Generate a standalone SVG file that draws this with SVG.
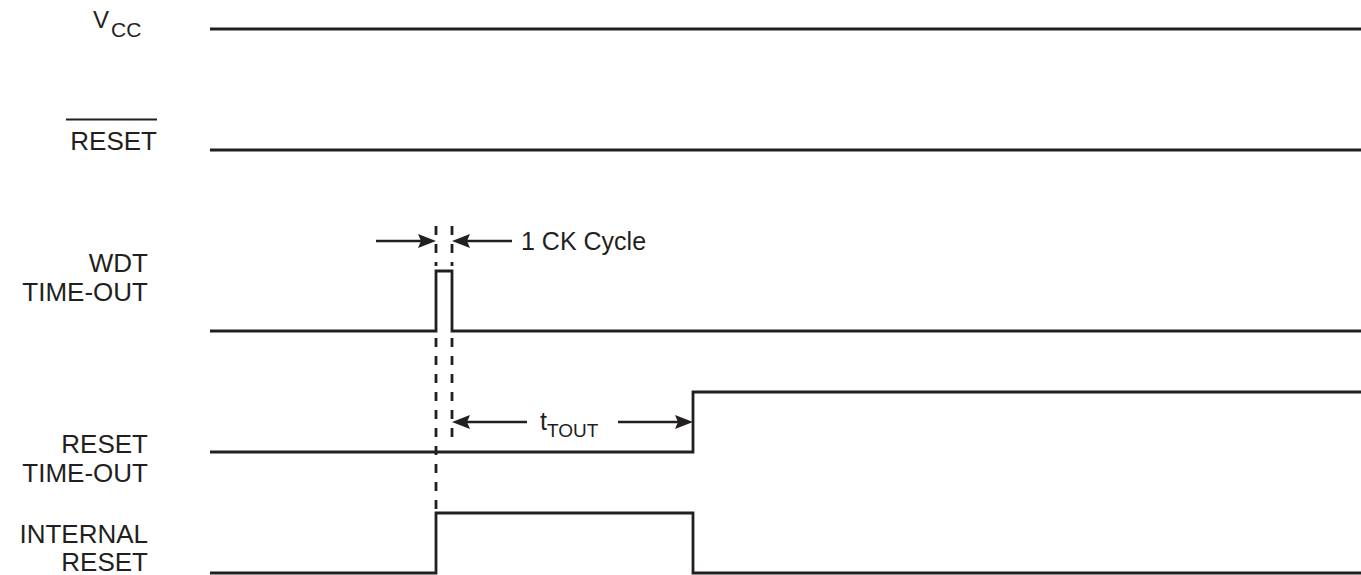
<svg xmlns="http://www.w3.org/2000/svg" width="1361" height="575" viewBox="0 0 1361 575">
<style>
.lbl{font-family:"Liberation Sans",Arial,sans-serif;font-size:26px;fill:#231f20}
.r{text-anchor:end}
.w{fill:none;stroke:#231f20;stroke-width:2.8}
.d{fill:none;stroke:#231f20;stroke-width:2.8;stroke-dasharray:9 9}
.a{fill:none;stroke:#231f20;stroke-width:2.4}
.h{fill:#231f20}
</style>
<rect width="1361" height="575" fill="#fff"/>
<g id="vcc">
<text class="lbl" x="93" y="28" style="font-size:24px">V<tspan x="111" y="37" style="font-size:21px">CC</tspan></text>
<line class="w" x1="210" y1="29" x2="1361" y2="29"/>
</g>
<g id="reset">
<text class="lbl r" x="157" y="150">RESET</text>
<line x1="66" y1="119.5" x2="157" y2="119.5" stroke="#231f20" stroke-width="2"/>
<line class="w" x1="210" y1="150" x2="1361" y2="150"/>
</g>
<g id="wdt">
<text class="lbl r" x="148" y="272">WDT</text>
<text class="lbl r" x="148" y="301">TIME-OUT</text>
<path class="w" d="M210,331 H436 V271 H452 V331 H1361"/>
</g>
<g id="resettimeout">
<text class="lbl r" x="148" y="453">RESET</text>
<text class="lbl r" x="148" y="482">TIME-OUT</text>
<path class="w" d="M210,452 H693 V392 H1361"/>
</g>
<g id="internalreset">
<text class="lbl r" x="148" y="543">INTERNAL</text>
<text class="lbl r" x="148" y="571">RESET</text>
<path class="w" d="M210,573 H436 V513 H693 V573 H1361"/>
</g>
<g id="connectors">
<line class="d" x1="436" y1="226" x2="436" y2="266"/>
<line class="d" x1="452" y1="226" x2="452" y2="266"/>
<line class="d" x1="436" y1="338" x2="436" y2="509"/>
<line class="d" x1="452" y1="338" x2="452" y2="437"/>
<line class="a" x1="376" y1="241" x2="422" y2="241"/>
<path class="h" d="M436,241 L418,234 L421,241 L418,248 Z"/>
<line class="a" x1="512" y1="241" x2="466" y2="241"/>
<path class="h" d="M452,241 L470,234 L467,241 L470,248 Z"/>
<line class="a" x1="527" y1="422" x2="466" y2="422"/>
<path class="h" d="M452,422 L470,415 L467,422 L470,429 Z"/>
<line class="a" x1="618" y1="422" x2="679" y2="422"/>
<path class="h" d="M693,422 L675,415 L678,422 L675,429 Z"/>
</g>
<g id="labels">
<text class="lbl" x="521" y="250" style="font-size:25px">1 CK Cycle</text>
<text class="lbl" x="540" y="430" style="font-size:25px">t<tspan y="437" style="font-size:19px">TOUT</tspan></text>
</g>
</svg>
